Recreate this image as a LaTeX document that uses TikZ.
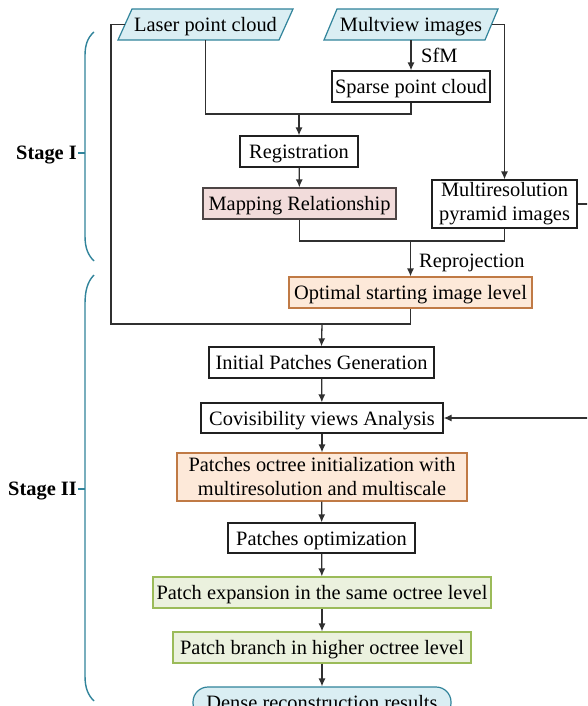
\documentclass[tikz,border=0pt]{standalone}
\usepackage{fontspec}
\setmainfont{Liberation Serif}
\usetikzlibrary{arrows.meta}
\definecolor{tealb}{HTML}{31849B}
\definecolor{paleblue}{HTML}{DAEEF3}
\definecolor{palepink}{HTML}{F2DCDB}
\definecolor{pinkline}{HTML}{4D4545}
\definecolor{paleorange}{HTML}{FDE9D9}
\definecolor{orangeline}{HTML}{C07A45}
\definecolor{palegreen}{HTML}{EBF1DE}
\definecolor{greenline}{HTML}{9BBB59}
\definecolor{conn}{HTML}{303030}
\definecolor{boxline}{HTML}{202020}
\begin{document}
\begin{tikzpicture}[x=1pt,y=-1pt,
  font=\fontsize{20.4}{24}\selectfont,
  plain/.style={inner sep=0pt, align=center},
  oneline/.style={text height=14pt, text depth=0pt},
  box/.style={plain, draw=boxline, line width=1.2pt, fill=white},
  pinkbox/.style={box, draw=pinkline, fill=palepink},
  orangebox/.style={box, draw=orangeline, fill=paleorange},
  greenbox/.style={box, draw=greenline, fill=palegreen},
  bluebox/.style={box, draw=tealb, fill=paleblue, rounded corners=15pt},
  para/.style={draw=tealb, fill=paleblue, line width=1.2pt},
  line/.style={draw=conn, line width=1.3pt},
  arrow/.style={line, -{Latex[length=8pt,width=7pt]}},
  brace/.style={draw=tealb, line width=1.4pt},
  lbl/.style={anchor=west, inner sep=0pt, oneline},
  stage/.style={anchor=east, inner sep=0pt, font=\fontsize{20.4}{24}\selectfont\bfseries}]
\clip (0,0) rectangle (587,706);
\fill[white] (0,0) rectangle (587,706);

% parallelogram inputs
\filldraw[para] (118,40) -- (132,9) -- (293,9) -- (279,40) -- cycle;
\node[plain, oneline, minimum width=161, minimum height=31] (laser) at (205.5,24.5) {Laser point cloud};
\filldraw[para] (324,40) -- (337,9) -- (498,9) -- (485,40) -- cycle;
\node[plain, oneline, minimum width=161, minimum height=31] (multi) at (411,24.5) {Multview images};

% boxes
\node[box, oneline, minimum width=158, minimum height=31] (sparse) at (411,86.5) {Sparse point cloud};
\node[box, oneline, minimum width=118, minimum height=31] (reg) at (299,151.5) {Registration};
\node[pinkbox, oneline, minimum width=193, minimum height=31] (map) at (299.5,203.5) {Mapping Relationship};
\node[box, minimum width=145, minimum height=48] (pyr) at (504.5,204) {Multiresolution\\pyramid images};
\node[orangebox, oneline, minimum width=243, minimum height=31] (opt) at (410.5,292.5) {Optimal starting image level};
\node[box, oneline, minimum width=225, minimum height=31] (init) at (321.5,362.5) {Initial Patches Generation};
\node[box, oneline, minimum width=242, minimum height=30] (covis) at (322,418) {Covisibility views Analysis};
\node[orangebox, minimum width=290, minimum height=48] (octree) at (322,477) {Patches octree initialization with\\multiresolution and multiscale};
\node[box, oneline, minimum width=187, minimum height=30] (popt) at (321.5,538) {Patches optimization};
\node[greenbox, oneline, minimum width=338, minimum height=31] (pexp) at (322,592.5) {Patch expansion in the same octree level};
\node[greenbox, oneline, minimum width=298, minimum height=31] (pbranch) at (322,647.5) {Patch branch in higher octree level};
\node[bluebox, oneline, minimum width=258, minimum height=31] (dense) at (322,702.5) {Dense reconstruction results};

% junction coordinates
\coordinate (m1) at (299,114);
\coordinate (m2) at (410.5,241);
\coordinate (lc) at (111,324);
\coordinate (m3) at (322,324);
\coordinate (e1) at (592,204);
\coordinate (e2) at (592,418);

% connectors
\draw[arrow] (multi.south) -- (sparse.north);
\node[lbl] (sfm) at (421,56) {SfM};
\draw[line] (laser.south) |- (m1) -| (sparse.south);
\draw[arrow] (m1) -- (reg.north);
\draw[arrow] (reg) -- (map);
\draw[arrow] (multi.east) -| (pyr.north);
\draw[line] (map.south) |- (m2) -| (pyr.south);
\draw[arrow] (m2) -- (opt.north);
\node[lbl] (repro) at (419,260) {Reprojection};
\draw[line] (laser.west) -| (lc) -| (opt.south);
\draw[arrow] (m3) -- (init.north);
\draw[line] (pyr.east) -- (e1);
\draw[arrow] (e2) -- (covis.east);
\draw[arrow] (init) -- (covis);
\draw[arrow] (covis) -- (octree);
\draw[arrow] (octree) -- (popt);
\draw[arrow] (popt) -- (pexp);
\draw[arrow] (pexp) -- (pbranch);
\draw[arrow] (pbranch) -- (dense);

% stage braces
\draw[brace] (94,32) .. controls (87,38) and (85,46) .. (85,56) -- (85,236) .. controls (85,248) and (88,255) .. (94,261);
\draw[brace] (85,153) -- (78,153);
\node[stage] (s1) at (77,155) {Stage I};
\draw[brace] (94,275) .. controls (87,282) and (85,292) .. (85,304) -- (85,676) .. controls (85,688) and (88,695) .. (94,701);
\draw[brace] (85,489) -- (78,489);
\node[stage] (s2) at (77,491) {Stage II};
\end{tikzpicture}
\end{document}
